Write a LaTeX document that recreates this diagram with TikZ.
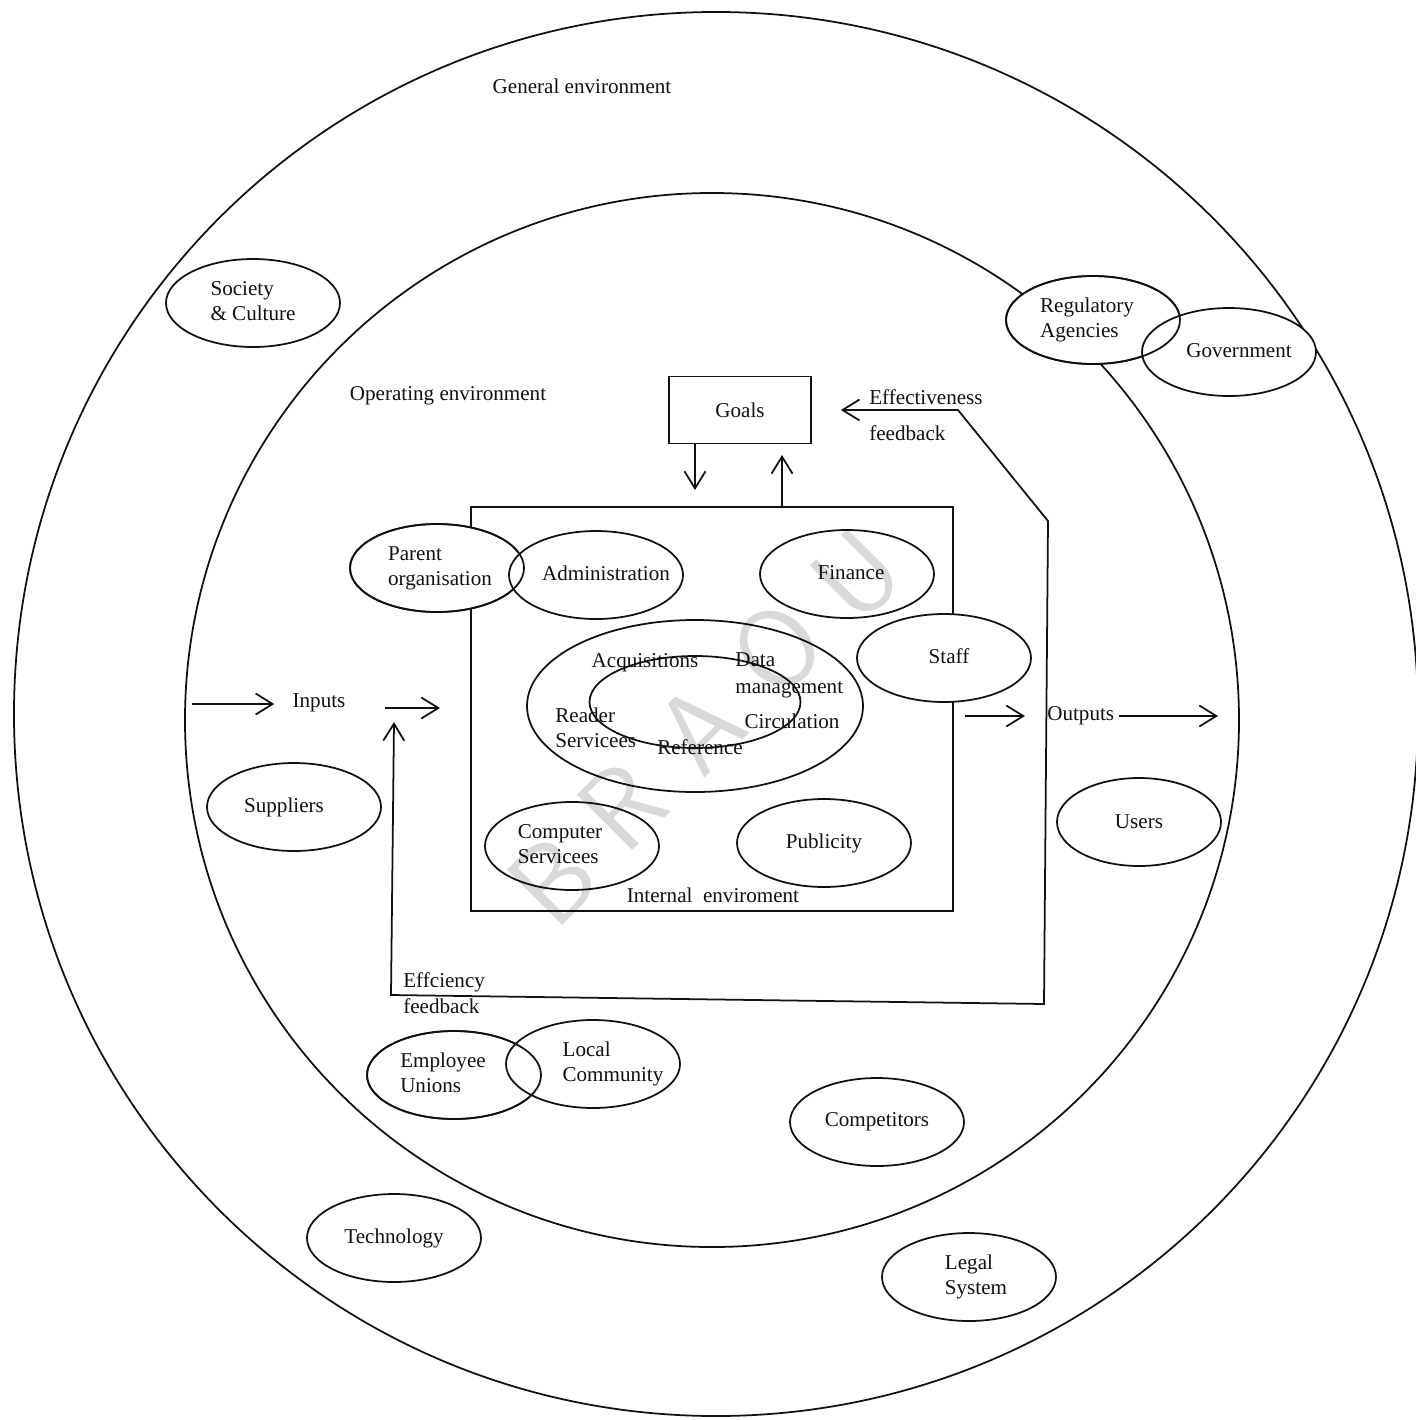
\documentclass[tikz,border=0pt]{standalone}
\usepackage{fontspec}
\setmainfont{Liberation Serif}
\usetikzlibrary{shapes.geometric,arrows.meta}
\definecolor{ink}{HTML}{111111}
\definecolor{stampInk}{HTML}{000000}
\newcommand{\ovtext}[2][0pt]{\makebox[0pt]{\hspace{#1}\begin{tabular}{@{}l@{}}#2\end{tabular}\hspace{-#1}}}
\tikzset{
  env ring/.style={
    draw=ink,
    line width=1pt
  },
  env oval/.style={
    ellipse,
    draw=ink,
    fill=white,
    line width=1pt,
    minimum width=34.8mm,
    minimum height=17.6mm,
    inner sep=0pt,
    font=\fontsize{12}{14.5}\selectfont,
    text=ink
  },
  oval edge/.style={
    draw=ink,
    line width=1pt
  },
  unit ring/.style={
    ellipse,
    draw=ink,
    line width=1pt,
    inner sep=0pt
  },
  goals box/.style={
    draw=ink,
    line width=1pt,
    minimum width=28.4mm,
    minimum height=13.4mm,
    font=\fontsize{12}{14.5}\selectfont,
    text=ink
  },
  internal box/.style={
    draw=ink,
    line width=1pt,
    minimum width=96.4mm,
    minimum height=80.8mm
  },
  env label/.style={
    font=\fontsize{12}{14.5}\selectfont,
    text=ink,
    align=left,
    inner sep=0pt
  },
  flow arrow/.style={
    -{Straight Barb[length=3.4mm,width=4.2mm]},
    draw=ink,
    line width=1pt
  },
  feedback loop/.style={
    {Straight Barb[length=3.4mm,width=4.2mm]}-{Straight Barb[length=3.4mm,width=4.2mm]},
    draw=ink,
    line width=1pt
  },
  stamp letter/.style={
    font=\sffamily\fontsize{64}{64}\selectfont,
    text=stampInk,
    text opacity=0.15,
    rotate=45,
    inner sep=0pt
  }
}

\begin{document}
\begin{tikzpicture}[x=0.2mm,y=-0.2mm]
  \useasboundingbox (0,0) rectangle (1416,1420);

  \draw[env ring] (716,714) circle [radius=140.4mm];
  \draw[env ring] (712,720) circle [radius=105.4mm];

  \node[env label] (general) at (582,86) {General environment};
  \node[env label] (operating) at (448,396) {Operating environment};

  \node[goals box] (goals) at (740,410) {Goals};
  \node[internal box] (intbox) at (712,709) {};
  \node[env label] (internal) at (713,895) {Internal\ \ enviroment};

  \coordinate (goalsIn) at (695,490);
  \coordinate (goalsOut) at (782,455);
  \draw[flow arrow] (goals.south -| goalsIn) -- (goalsIn);
  \draw[flow arrow] (intbox.north -| goalsOut) -- (goalsOut);

  \coordinate (effTurn) at (958,410);
  \coordinate (effTop) at (1048,521);
  \coordinate (effLow) at (1044,1004);
  \coordinate (effcLow) at (391,995);
  \coordinate (effcTip) at (394,722);
  \draw[feedback loop,shorten <=5.8mm] (goals.east) -- (effTurn) -- (effTop)
    -- (effLow) -- (effcLow) -- (effcTip);
  \node[env label,anchor=west] (effect) at (869,415) {Effectiveness\\[6pt]feedback};
  \node[env label,anchor=west] (effic) at (403,993) {Effciency\\feedback};

  \node[env label] (inputs) at (319,703) {Inputs};
  \coordinate (inStart) at (192,704);
  \coordinate (inFrom) at (385,708);
  \coordinate (inTo) at (440,708);
  \draw[flow arrow,shorten >=3.6mm] (inStart) -- (inputs.west |- inStart);
  \draw[flow arrow] (inFrom) -- (inTo);

  \node[env label,anchor=west] (outputs) at (1047,716) {Outputs};
  \coordinate (outFrom) at (965,716);
  \coordinate (outTo) at (1025,716);
  \coordinate (outEnd) at (1218,716);
  \draw[flow arrow] (outFrom) -- (outTo);
  \draw[flow arrow,shorten <=1mm] (outputs.east) -- (outputs.east -| outEnd);

  \node[unit ring,minimum width=67.2mm,minimum height=34.4mm] (services) at (695,706) {};
  \node[unit ring,minimum width=42.2mm,minimum height=18.4mm] (core) at (695,702) {};
  \node[env label] (acq) at (645,663) {Acquisitions};
  \node[env label,anchor=west] (datam) at (735,675) {Data\\[1pt]management};
  \node[env label,anchor=west] (reader) at (555,728) {Reader\\Servicees};
  \node[env label] (circ) at (792,721) {Circulation};
  \node[env label] (ref) at (700,747) {Reference};

  \node[env oval] (soc) at (253,303) {\ovtext{Society\\\& Culture}};
  \node[env oval] (reg) at (1093,320) {\ovtext[-1.2mm]{Regulatory\\Agencies}};
  \node[env oval] (gov) at (1229,352) {\ovtext[2mm]{Government}};
  \node[env oval] (par) at (437,568) {\ovtext[0.6mm]{Parent\\organisation}};
  \node[env oval] (adm) at (596,575) {\ovtext[2mm]{Administration}};
  \node[env oval] (fin) at (847,574) {\ovtext[0.8mm]{Finance}};
  \node[env oval] (staff) at (944,658) {\ovtext[1mm]{Staff}};
  \node[env oval] (comp) at (572,846) {\ovtext[-2.4mm]{Computer\\Servicees}};
  \node[env oval] (pub) at (824,843) {Publicity};
  \node[env oval] (sup) at (294,807) {\ovtext[-2mm]{Suppliers}};
  \node[env oval,minimum width=32.8mm] (users) at (1139,822) {Users};
  \node[env oval] (emp) at (454,1075) {\ovtext[-2.2mm]{Employee\\Unions}};
  \node[env oval] (loc) at (593,1064) {\ovtext[4mm]{Local\\Community}};
  \node[env oval] (rivals) at (877,1122) {Competitors};
  \node[env oval] (tech) at (394,1238) {Technology};
  \node[env oval] (legal) at (969,1277) {\ovtext[1.4mm]{Legal\\System}};

  \foreach \n in {par,reg,emp}
    \draw[oval edge] (\n.center) ellipse [x radius=17.4mm, y radius=8.8mm];

  \foreach \ch/\px/\py in {B/553/880,R/622/806,A/700/728,O/777/648,U/857/576}
    \node[stamp letter] (stamp\ch) at (\px,\py) {\ch};
\end{tikzpicture}
\end{document}
